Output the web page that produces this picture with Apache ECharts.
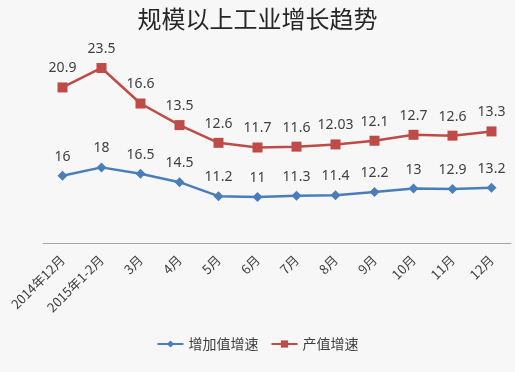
<!DOCTYPE html>
<html><head><meta charset="utf-8">
<script src="https://cdn.jsdelivr.net/npm/echarts@6/dist/echarts.min.js"></script>
<style>html,body{margin:0;padding:0;background:#f7f7f7}#c{width:515px;height:372px}</style>
</head><body><div id="c"></div>
<script>
const categories = ['2014年12月','2015年1-2月','3月','4月','5月','6月','7月','8月','9月','10月','11月','12月'];
const addedValueGrowth = [16, 18, 16.5, 14.5, 11.2, 11, 11.3, 11.4, 12.2, 13, 12.9, 13.2];
const outputGrowth = [20.9, 23.5, 16.6, 13.5, 12.6, 11.7, 11.6, 12.03, 12.1, 12.7, 12.6, 13.3];
const seriesNames = ['增加值增速', '产值增速'];

const chart = echarts.init(document.getElementById('c'));
const font = 'Noto Sans, Noto Sans CJK SC, sans-serif';
chart.setOption({
  backgroundColor: '#f7f7f7',
  animation: false,
  title: {
    text: '规模以上工业增长趋势', left: 'center', top: 2,
    textStyle: {fontFamily: 'Noto Sans CJK SC', fontSize: 24, fontWeight: 'normal', color: '#262626'}
  },
  legend: {
    bottom: 16, left: 'center', itemWidth: 26, itemHeight: 9, itemGap: 12,
    textStyle: {fontFamily: 'Noto Sans CJK SC', fontSize: 14, color: '#404040'},
    data: seriesNames
  },
  grid: {left: 43, right: 4, top: 40.5, bottom: 372 - 243.5},
  xAxis: {
    type: 'category', data: categories, boundaryGap: true,
    axisLine: {lineStyle: {color: '#a6a6a6', width: 1}},
    axisTick: {show: false},
    axisLabel: {rotate: 45, interval: 0, fontFamily: 'Noto Sans CJK SC', fontSize: 13, color: '#404040', margin: 14}
  },
  yAxis: {type: 'value', min: 0, max: 48, show: false, splitLine: {show: false}},
  series: [
    {
      name: seriesNames[0], type: 'line', stack: 'total', data: addedValueGrowth,
      symbol: 'diamond', symbolSize: 10,
      lineStyle: {color: '#4a7ebb', width: 2.5},
      itemStyle: {color: '#4a7ebb'},
      label: {show: true, position: 'top', distance: 7, fontFamily: font, fontSize: 14, color: '#404040'}
    },
    {
      name: seriesNames[1], type: 'line', stack: 'total', data: outputGrowth,
      symbol: 'rect', symbolSize: 10,
      lineStyle: {color: '#be4b48', width: 2.5},
      itemStyle: {color: '#be4b48'},
      label: {show: true, position: 'top', distance: 7, fontFamily: font, fontSize: 14, color: '#404040'}
    }
  ]
});
</script></body></html>
